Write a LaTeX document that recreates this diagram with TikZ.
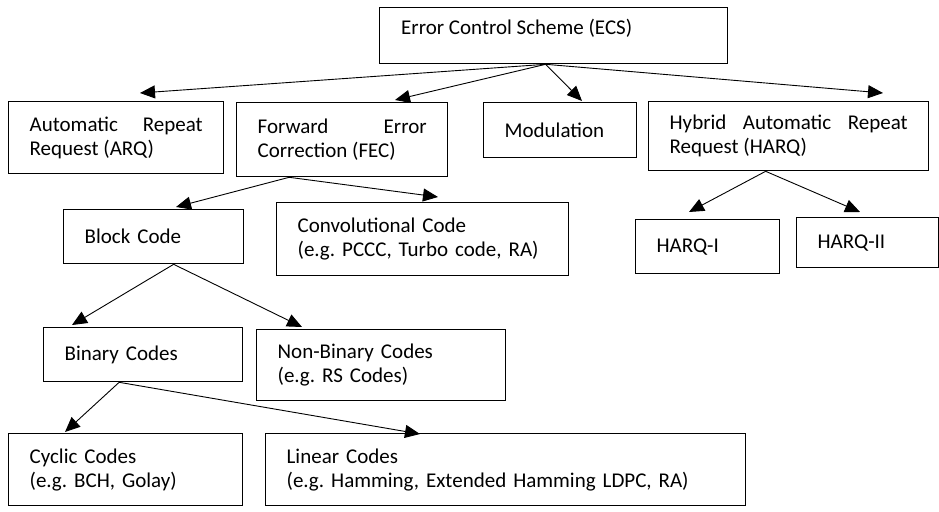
\documentclass[tikz,border=0pt]{standalone}
\usepackage{fontspec}
\setmainfont{Carlito}
\usetikzlibrary{arrows.meta}
\begin{document}
\frenchspacing
\hyphenpenalty=10000
\exhyphenpenalty=10000
\tolerance=10000
\hbadness=10000
\begin{tikzpicture}[x=1pt,y=-1pt,
  font=\fontsize{21}{24}\selectfont,
  box/.style={draw, line width=1.3pt, inner xsep=0pt, inner ysep=0pt, anchor=north west, align=left},
  jbox/.style={box, align=justify},
  arr/.style={line width=0.9pt, -{Triangle[length=15pt,width=13pt]}}]
\useasboundingbox (0,0) rectangle (939,511);
% top
\node[box, minimum width=348pt, minimum height=56pt] (ecs) at (379,7) {};
\node[anchor=base west, inner sep=0pt] (ecst) at (401,35) {Error Control Scheme (ECS)};
% level 1
\node[jbox, minimum width=215pt, minimum height=72pt, text width=173pt] (arq) at (8,101) {Automatic Repeat Request (ARQ)};
\node[jbox, minimum width=211pt, minimum height=74pt, text width=169pt] (fec) at (236,102) {Forward Error Correction (FEC)};
\node[box, minimum width=153pt, minimum height=55pt, text width=111pt] (mod) at (483,102) {Modulation};
\node[jbox, minimum width=280pt, minimum height=69pt, text width=238pt] (harq) at (648,101) {Hybrid Automatic Repeat Request (HARQ)};
% level 2
\node[box, minimum width=180pt, minimum height=54pt, text width=138pt] (blk) at (63,209) {Block Code};
\node[box, minimum width=292pt, minimum height=73pt, text width=250pt] (conv) at (276,202) {Convolutional Code\\(e.g. PCCC, Turbo code, RA)};
\node[box, minimum width=144pt, minimum height=54pt, text width=102pt] (h1) at (635,219) {HARQ-I};
\node[box, minimum width=142pt, minimum height=50pt, text width=100pt] (h2) at (796,217) {HARQ-II};
% level 3
\node[box, minimum width=199pt, minimum height=54pt, text width=157pt] (bin) at (43,327) {Binary Codes};
\node[box, minimum width=249pt, minimum height=71pt, text width=207pt] (nbin) at (256,329) {Non-Binary Codes\\(e.g. RS Codes)};
% level 4
\node[box, minimum width=234pt, minimum height=72pt, text width=192pt] (cyc) at (8,433) {Cyclic Codes\\(e.g. BCH, Golay)};
\node[box, minimum width=480pt, minimum height=72pt, text width=438pt] (lin) at (265,433) {Linear Codes\\(e.g. Hamming, Extended Hamming LDPC, RA)};
% connector origins and tips
\coordinate (oEcs) at ([xshift=-8pt]ecs.south);
\coordinate (tArq) at (140,93);
\coordinate (tFec) at (395,100);
\coordinate (tMod) at (582,101);
\coordinate (tHarq) at (883,93);
\coordinate (oFec) at ([xshift=-53pt]fec.south);
\coordinate (tBlk) at (176,207);
\coordinate (tConv) at (438,197);
\coordinate (oHarq) at ([xshift=-23pt]harq.south);
\coordinate (tH1) at (689,212);
\coordinate (tH2) at (860,212);
\coordinate (oBlk) at ([xshift=20pt]blk.south);
\coordinate (tBin) at (72,325);
\coordinate (tNbin) at (302,327);
\coordinate (oBin) at ([xshift=-24pt]bin.south);
\coordinate (tCyc) at (65,432);
\coordinate (tLin) at (420,434);
\draw[arr] (oEcs) -- (tArq);
\draw[arr] (oEcs) -- (tFec);
\draw[arr] (oEcs) -- (tMod);
\draw[arr] (oEcs) -- (tHarq);
\draw[arr] (oFec) -- (tBlk);
\draw[arr] (oFec) -- (tConv);
\draw[arr] (oHarq) -- (tH1);
\draw[arr] (oHarq) -- (tH2);
\draw[arr] (oBlk) -- (tBin);
\draw[arr] (oBlk) -- (tNbin);
\draw[arr] (oBin) -- (tCyc);
\draw[arr] (oBin) -- (tLin);
\end{tikzpicture}
\end{document}
